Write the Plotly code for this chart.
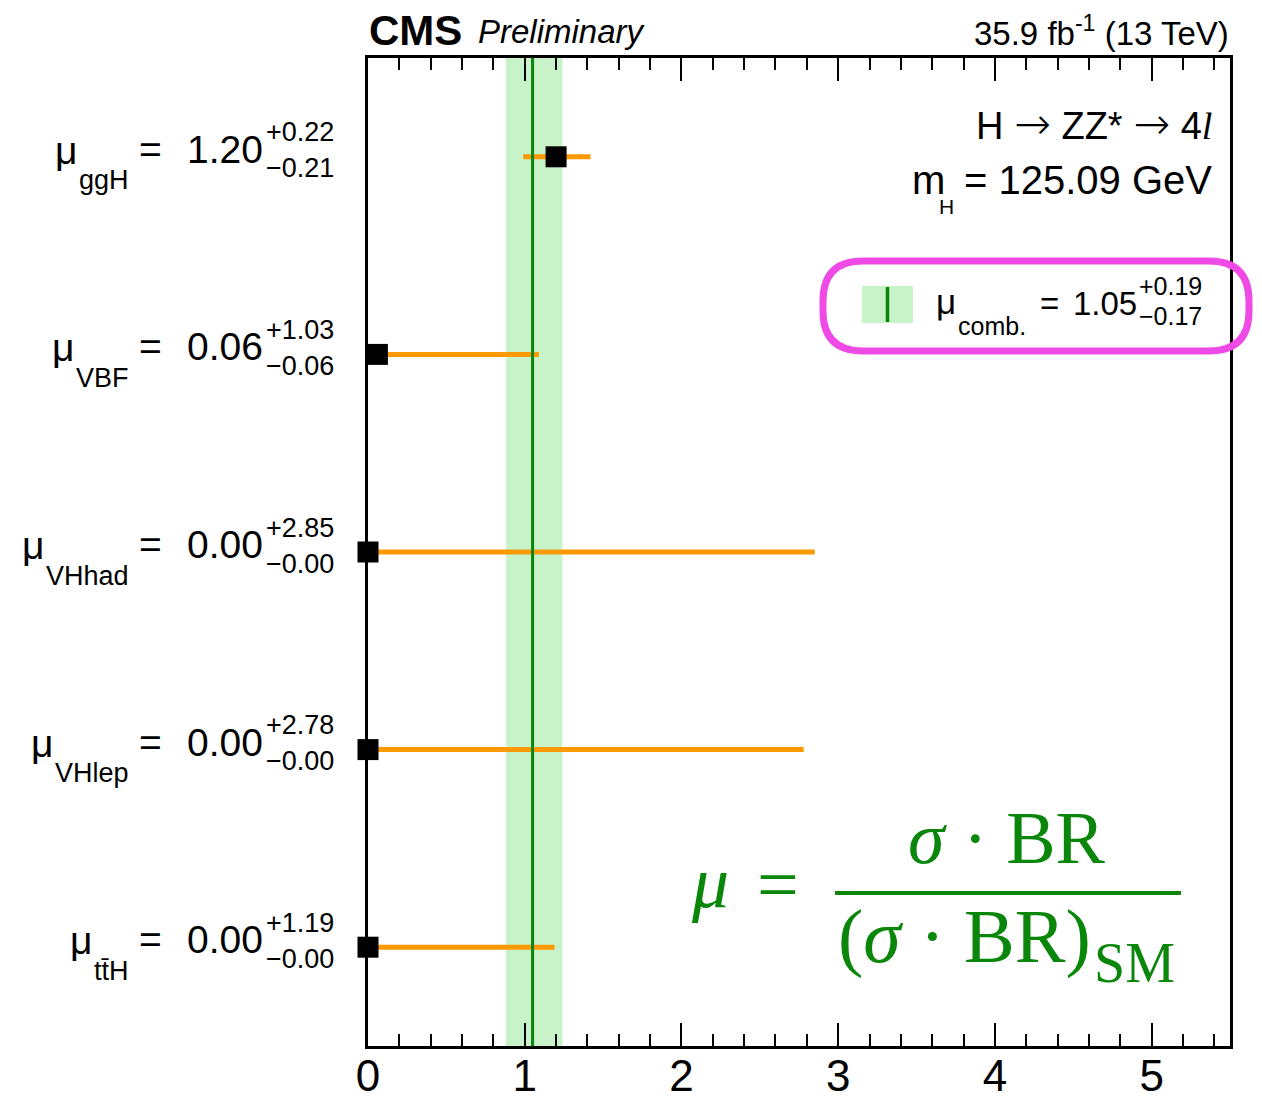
import plotly.graph_objects as go

# ---------------- data ----------------
categories = ["ggH", "VBF", "VHhad", "VHlep", "tt\u0304H"]
mu_values = [1.20, 0.06, 0.00, 0.00, 0.00]
err_up = [0.22, 1.03, 2.85, 2.78, 1.19]
err_down = [0.21, 0.06, 0.00, 0.00, 0.00]
comb_value = 1.05
comb_up = 0.19
comb_down = 0.17
x_tick_vals = [0, 1, 2, 3, 4, 5]
x_tick_labels = ["0", "1", "2", "3", "4", "5"]
x_range = [0, 5.5]

# ---------------- geometry ----------------
W, H = 1262, 1098
L, R, T, B = 368, 1230, 58, 1046
n = len(categories)
y_pos = [n - i - 0.5 for i in range(n)]

SANS = "Liberation Sans, Arial, Helvetica, sans-serif"
SERIF = "Liberation Serif, Times New Roman, serif"
GREEN = "#0a870a"
BAND = "#c8f2c8"
ORANGE = "#ff9900"


def px(xp):
    return (xp - L) / (R - L)


def py(yp):
    return (B - yp) / (B - T)


def row_pix(yv):
    return T + (n - yv) / n * (B - T)


annotations = []


def txt(x, baseline, text, size, anchor="left", family=SANS, color="black", k=0.345):
    annotations.append(dict(
        x=px(x), y=py(baseline - k * size), xref="paper", yref="paper",
        text=text, showarrow=False, xanchor=anchor, yanchor="middle",
        font=dict(family=family, size=size, color=color),
        borderpad=0, borderwidth=0,
    ))


# Arial advance widths (per 1000 em) for subscript labels
AW = {"g": 556, "H": 722, "V": 667, "B": 667, "F": 611, "h": 556, "a": 556,
      "d": 556, "l": 222, "e": 556, "p": 556, "t": 278, "\u0304": 0}

fig = go.Figure()

fig.add_trace(go.Scatter(
    x=mu_values, y=y_pos, mode="markers",
    marker=dict(symbol="square", size=21, color="black", line=dict(width=0)),
    error_x=dict(type="data", symmetric=False, array=err_up, arrayminus=err_down,
                 color=ORANGE, thickness=5, width=0),
    cliponaxis=False, showlegend=False, hoverinfo="skip",
))

shapes = []
# combined band and line
shapes.append(dict(type="rect", xref="x", yref="paper", x0=comb_value - comb_down,
                   x1=comb_value + comb_up, y0=0, y1=1, fillcolor=BAND,
                   line=dict(width=0), layer="below"))
shapes.append(dict(type="line", xref="x", yref="paper", x0=comb_value, x1=comb_value,
                   y0=0, y1=1, line=dict(color=GREEN, width=3), layer="above"))

# ---------------- left labels ----------------
for cat, v, u, d, yv in zip(categories, mu_values, err_up, err_down, y_pos):
    yc = row_pix(yv)
    sub_w = sum(AW.get(c, 556) for c in cat) * 27 / 1000
    txt(129, yc + 33, cat, 27, "right")
    txt(129 - sub_w - 2, yc + 7, "\u03bc", 39, "right")
    txt(151, yc + 6, "=", 39, "center")
    txt(263, yc + 6, f"{v:.2f}", 39, "right")
    txt(266, yc - 15, f"+{u:.2f}", 27, "left")
    txt(266, yc + 21, f"\u2212{d:.2f}", 27, "left")

# ---------------- header ----------------
txt(369, 45, "<b>CMS</b>", 42, "left")
txt(478, 43, "<i>Preliminary</i>", 33, "left")
txt(1229, 42, "35.9 fb<sup>-1</sup> (13 TeV)", 33, "right")

# ---------------- right text ----------------
ARROW = "<span style='font-family:DejaVu Sans;font-weight:200;font-size:44px'>\u2192</span>"
txt(1212, 137, f"H {ARROW} ZZ* {ARROW} 4<i><span style='font-family:Liberation Serif'>l</span></i>",
    38, "right")
txt(1212, 194, "= 125.09 GeV", 40, "right")
txt(912, 194, "m", 40, "left")
txt(939, 214, "H", 21, "left")

# ---------------- legend ----------------
shapes.append(dict(type="rect", xref="paper", yref="paper", x0=px(862), x1=px(913),
                   y0=py(323), y1=py(286), fillcolor=BAND, line=dict(width=0)))
shapes.append(dict(type="line", xref="paper", yref="paper", x0=px(887.5), x1=px(887.5),
                   y0=py(322), y1=py(287), line=dict(color=GREEN, width=3.5)))
txt(936, 314, "\u03bc", 35, "left")
txt(958, 335, "comb.", 25, "left")
txt(1049, 315, "=", 33, "center")
txt(1137, 315, f"{comb_value:.2f}", 33, "right")
txt(1139, 295, f"+{comb_up:.2f}", 25, "left")
txt(1139, 325, f"\u2212{comb_down:.2f}", 25, "left")

# pink hand-drawn rounded box
x0, x1, y0, y1, r = 823, 1249, 261, 351, 40
pts = [
    ("M", (x0 + r, y0)), ("L", (x1 - r, y0)), ("Q", (x1, y0), (x1, y0 + r)),
    ("L", (x1, y1 - r)), ("Q", (x1, y1), (x1 - r, y1)), ("L", (x0 + r, y1)),
    ("Q", (x0, y1), (x0, y1 - r)), ("L", (x0, y0 + r)), ("Q", (x0, y0), (x0 + r, y0)),
]
path = ""
for item in pts:
    cmd = item[0]
    coords = " ".join(f"{px(a):.5f},{py(b):.5f}" for a, b in item[1:])
    path += f"{cmd} {coords} "
path += "Z"
shapes.append(dict(type="path", xref="paper", yref="paper", path=path,
                   line=dict(color="#f04ae6", width=7), layer="above"))

# ---------------- formula ----------------
txt(710, 907, "<i>\u03bc</i>", 74, "center", SERIF, GREEN, k=0.338)
txt(778, 909, "=", 74, "center", SERIF, GREEN, k=0.338)
txt(1007, 863, "<i>\u03c3</i> \u00b7 BR", 74, "center", SERIF, GREEN, k=0.338)
txt(838, 962, "(<i>\u03c3</i> \u00b7 BR)", 76, "left", SERIF, GREEN, k=0.338)
txt(1094, 982, "SM", 56, "left", SERIF, GREEN, k=0.338)
shapes.append(dict(type="line", xref="paper", yref="paper", x0=px(835), x1=px(1181),
                   y0=py(893), y1=py(893), line=dict(color=GREEN, width=4)))

fig.update_layout(
    width=W, height=H,
    margin=dict(l=L, r=W - R, t=T, b=H - B, pad=0, autoexpand=False),
    paper_bgcolor="white", plot_bgcolor="white",
    showlegend=False,
    shapes=shapes, annotations=annotations,
    font=dict(family=SANS, color="black"),
    xaxis=dict(
        range=x_range, tickmode="array", tickvals=x_tick_vals, ticktext=x_tick_labels,
        ticks="inside", ticklen=23, tickwidth=2, tickcolor="black",
        minor=dict(dtick=0.2, ticks="inside", ticklen=12, tickwidth=2, tickcolor="black"),
        showline=True, linecolor="black", linewidth=2.5, mirror="allticks",
        showgrid=False, zeroline=False, automargin=False,
        tickfont=dict(family=SANS, size=44, color="black"),
        ticklabelstandoff=-11,
        fixedrange=True,
    ),
    yaxis=dict(
        range=[0, n], showticklabels=False, ticks="",
        showline=True, linecolor="black", linewidth=2.5, mirror=True,
        showgrid=False, zeroline=False, fixedrange=True, automargin=False,
    ),
)

fig.write_html("out.html")
